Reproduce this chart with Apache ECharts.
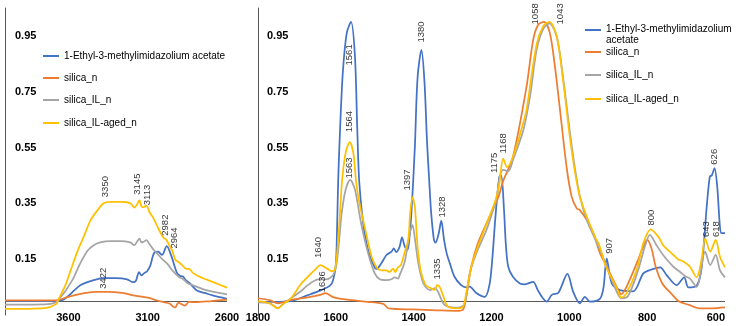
<!DOCTYPE html>
<html><head><meta charset="utf-8">
<script src="https://cdn.jsdelivr.net/npm/echarts@6/dist/echarts.min.js"></script>
<style>html,body{margin:0;padding:0;background:#fff}#c{width:739px;height:326px}</style>
</head><body><div id="c"></div>
<script>
// ---------- data ----------
const seriesNames = ['1-Ethyl-3-methylimidazolium acetate', 'silica_n', 'silica_IL_n', 'silica_IL-aged_n'];

// Left panel (4000-2600 cm-1)
const ilLeftWn = [4000, 3700, 3640, 3600, 3560, 3520, 3480, 3440, 3380, 3300, 3230, 3195, 3175, 3155, 3140, 3122, 3105, 3085, 3060, 3035, 3010, 2980, 2950, 2915, 2895, 2878, 2860, 2832, 2790, 2740, 2690, 2600];
const ilLeftVal = [0.0, 0.0, 0.003, 0.018, 0.04, 0.058, 0.068, 0.075, 0.082, 0.082, 0.078, 0.068, 0.072, 0.104, 0.092, 0.10, 0.106, 0.125, 0.172, 0.177, 0.165, 0.197, 0.16, 0.10, 0.09, 0.088, 0.075, 0.062, 0.038, 0.029, 0.02, 0.008];

const silicaLeftWn = [4000, 3700, 3660, 3600, 3500, 3420, 3350, 3250, 3190, 3100, 3040, 2990, 2960, 2940, 2926, 2915, 2905, 2890, 2865, 2850, 2840, 2800, 2700, 2600];
const silicaLeftVal = [0.002, 0.002, 0.004, 0.015, 0.028, 0.033, 0.033, 0.028, 0.02, 0.012, 0.002, -0.005, -0.01, -0.02, -0.023, -0.012, -0.006, -0.01, -0.016, -0.008, -0.003, -0.004, 0.0, 0.005];

const ilnLeftWn = [4000, 3750, 3680, 3655, 3620, 3586, 3565, 3530, 3480, 3440, 3400, 3335, 3270, 3210, 3185, 3168, 3152, 3140, 3127, 3108, 3090, 3065, 3040, 3008, 2977, 2945, 2900, 2880, 2850, 2813, 2726, 2600];
const ilnLeftVal = [-0.013, -0.012, -0.005, 0.01, 0.035, 0.065, 0.086, 0.13, 0.18, 0.20, 0.21, 0.215, 0.215, 0.21, 0.20, 0.212, 0.224, 0.21, 0.212, 0.218, 0.205, 0.185, 0.17, 0.15, 0.134, 0.11, 0.085, 0.08, 0.065, 0.056, 0.038, 0.024];

const agedLeftWn = [4000, 3750, 3680, 3659, 3617, 3586, 3542, 3504, 3460, 3416, 3378, 3335, 3272, 3209, 3184, 3168, 3152, 3140, 3127, 3108, 3090, 3065, 3033, 3002, 2983, 2964, 2945, 2926, 2901, 2876, 2857, 2839, 2813, 2769, 2688, 2600];
const agedLeftVal = [-0.028, -0.025, -0.012, 0.01, 0.06, 0.11, 0.18, 0.23, 0.29, 0.326, 0.35, 0.355, 0.355, 0.35, 0.335, 0.345, 0.362, 0.34, 0.336, 0.342, 0.32, 0.298, 0.26, 0.228, 0.22, 0.20, 0.18, 0.148, 0.138, 0.125, 0.115, 0.115, 0.10, 0.086, 0.068, 0.048];

// Right panel (1800-600 cm-1)
const ilRightWn = [1800, 1760, 1715, 1672, 1638, 1615, 1607, 1600, 1597, 1594, 1589, 1582, 1572, 1561, 1551, 1545, 1540, 1530, 1520, 1512, 1500, 1495, 1483, 1470, 1457, 1451, 1445, 1436, 1430, 1423, 1416, 1412, 1406, 1397, 1390, 1380, 1372, 1366, 1360, 1355, 1348, 1344, 1336, 1329, 1322, 1315, 1307, 1295, 1278, 1265, 1256, 1240, 1217, 1205, 1198, 1190, 1180, 1175, 1168, 1163, 1157, 1145, 1127, 1114, 1093, 1081, 1068, 1058, 1045, 1028, 1005, 990, 973, 960, 947, 921, 912, 904, 891, 870, 836, 810, 793, 767, 750, 724, 705, 694, 673, 660, 647, 639, 634, 627, 620, 613, 609, 600];
const ilRightVal = [-0.003, -0.003, 0.0, 0.021, 0.039, 0.055, 0.075, 0.13, 0.25, 0.43, 0.62, 0.82, 0.96, 1.0, 0.88, 0.62, 0.43, 0.28, 0.2, 0.16, 0.12, 0.115, 0.135, 0.165, 0.177, 0.189, 0.175, 0.195, 0.228, 0.196, 0.183, 0.21, 0.31, 0.55, 0.80, 0.90, 0.78, 0.58, 0.43, 0.315, 0.22, 0.209, 0.24, 0.288, 0.22, 0.17, 0.135, 0.087, 0.057, 0.049, 0.052, 0.03, 0.015, 0.06, 0.15, 0.30, 0.445, 0.45, 0.33, 0.2, 0.123, 0.087, 0.063, 0.06, 0.069, 0.039, 0.01, -0.002, 0.022, 0.03, 0.097, 0.033, -0.008, 0.015, -0.002, 0.009, 0.05, 0.153, 0.063, 0.039, 0.035, 0.099, 0.111, 0.121, 0.093, 0.057, 0.085, 0.049, 0.055, 0.12, 0.338, 0.446, 0.45, 0.476, 0.41, 0.266, 0.243, 0.243];

const silicaRightWn = [1800, 1770, 1749, 1715, 1672, 1640, 1627, 1605, 1570, 1525, 1478, 1465, 1400, 1340, 1290, 1273, 1265, 1252, 1235, 1209, 1183, 1170, 1145, 1110, 1093, 1080, 1065, 1050, 1037, 1024, 1007, 994, 981, 973, 955, 938, 921, 904, 887, 870, 866, 853, 827, 810, 800, 789, 778, 761, 735, 718, 692, 666, 633, 600];
const silicaRightVal = [0.01, 0.003, -0.008, 0.004, 0.013, 0.022, 0.028, 0.013, 0.005, -0.002, -0.01, -0.026, -0.03, -0.033, -0.035, -0.03, 0.015, 0.123, 0.207, 0.29, 0.37, 0.43, 0.516, 0.768, 0.935, 0.99, 1.0, 0.96, 0.84, 0.685, 0.48, 0.374, 0.332, 0.326, 0.29, 0.243, 0.171, 0.125, 0.075, 0.028, 0.025, 0.051, 0.135, 0.195, 0.219, 0.189, 0.123, 0.063, 0.022, -0.002, -0.014, -0.026, -0.026, -0.023];

const ilnRightWn = [1800, 1770, 1749, 1735, 1715, 1690, 1672, 1645, 1625, 1607, 1598, 1590, 1585, 1575, 1563, 1551, 1535, 1517, 1500, 1487, 1470, 1457, 1449, 1440, 1436, 1423, 1410, 1403, 1397, 1388, 1375, 1358, 1345, 1338, 1320, 1286, 1269, 1256, 1239, 1213, 1204, 1187, 1178, 1170, 1157, 1145, 1118, 1101, 1084, 1067, 1051, 1032, 1016, 1007, 998, 985, 972, 955, 938, 929, 917, 904, 887, 866, 849, 823, 806, 793, 776, 759, 733, 716, 703, 690, 673, 651, 638, 624, 613, 600];
const ilnRightVal = [-0.005, -0.008, -0.025, -0.01, 0.01, 0.035, 0.057, 0.078, 0.078, 0.093, 0.135, 0.24, 0.314, 0.398, 0.434, 0.40, 0.278, 0.171, 0.099, 0.078, 0.075, 0.078, 0.085, 0.08, 0.093, 0.141, 0.243, 0.272, 0.225, 0.135, 0.063, 0.039, 0.046, 0.035, -0.014, -0.024, -0.01, 0.099, 0.171, 0.254, 0.29, 0.37, 0.45, 0.47, 0.465, 0.505, 0.613, 0.733, 0.90, 0.975, 0.995, 0.945, 0.80, 0.70, 0.60, 0.47, 0.37, 0.29, 0.235, 0.207, 0.17, 0.123, 0.063, 0.01, 0.018, 0.111, 0.195, 0.237, 0.2, 0.165, 0.123, 0.105, 0.09, 0.08, 0.051, 0.177, 0.129, 0.165, 0.111, 0.085];

const agedRightWn = [1800, 1770, 1749, 1735, 1715, 1690, 1672, 1650, 1640, 1623, 1610, 1602, 1595, 1590, 1584, 1575, 1564, 1555, 1548, 1541, 1524, 1508, 1495, 1483, 1470, 1462, 1453, 1447, 1441, 1433, 1424, 1414, 1409, 1403, 1397, 1390, 1382, 1369, 1355, 1346, 1340, 1333, 1325, 1312, 1286, 1273, 1265, 1252, 1235, 1209, 1190, 1180, 1170, 1160, 1145, 1118, 1110, 1084, 1067, 1051, 1032, 1016, 1007, 998, 985, 973, 955, 934, 923, 908, 896, 878, 866, 853, 827, 810, 791, 771, 759, 737, 720, 707, 690, 673, 660, 651, 638, 624, 613, 600];
const agedRightVal = [0.0, -0.008, -0.026, -0.01, 0.01, 0.06, 0.087, 0.117, 0.129, 0.117, 0.107, 0.115, 0.2, 0.30, 0.43, 0.53, 0.569, 0.53, 0.43, 0.362, 0.254, 0.159, 0.12, 0.11, 0.11, 0.104, 0.116, 0.104, 0.12, 0.129, 0.17, 0.219, 0.314, 0.372, 0.338, 0.195, 0.11, 0.057, 0.046, 0.04, 0.057, 0.05, 0.022, -0.02, -0.026, -0.02, 0.028, 0.123, 0.195, 0.29, 0.36, 0.42, 0.51, 0.48, 0.516, 0.64, 0.685, 0.92, 0.985, 1.0, 0.947, 0.79, 0.685, 0.58, 0.458, 0.374, 0.302, 0.23, 0.2, 0.13, 0.095, 0.046, 0.012, 0.028, 0.111, 0.207, 0.257, 0.23, 0.2, 0.171, 0.149, 0.142, 0.123, 0.085, 0.15, 0.225, 0.177, 0.219, 0.159, 0.121];

// Peak annotations (label text, wavenumber, absorbance at text centre)
const leftPeakText = ['3350', '3145', '3113', '2982', '2964', '3422'];
const leftPeakWn = [3366, 3165, 3100, 2986, 2930, 3378];
const leftPeakVal = [0.41, 0.419, 0.38, 0.272, 0.226, 0.082];
const rightPeakText = ['1561', '1380', '1564', '1563', '1397', '1328', '1335', '1640', '1636', '1175', '1168', '1058', '1043', '907', '800', '643', '618', '626'];
const rightPeakWn = [1564, 1380, 1564, 1564, 1417, 1326, 1340, 1645, 1634, 1193, 1170, 1086, 1024, 897, 790, 649, 621, 627];
const rightPeakVal = [0.882, 0.964, 0.643, 0.477, 0.434, 0.337, 0.115, 0.192, 0.069, 0.495, 0.565, 1.029, 1.029, 0.198, 0.299, 0.258, 0.258, 0.517];

// Axis ticks
const leftXTicks = {min: 2600, max: 4000, interval: 500};
const rightXTicks = {min: 600, max: 1800, interval: 200};
const yTicks = {min: -0.05, max: 1.05, interval: 0.2};

// ---------- chart ----------
const FONT = '"Liberation Sans", Arial, sans-serif';
const colors = ['#4472C4', '#ED7D31', '#A5A5A5', '#FFC000'];
const zip = (a, b) => a.map((x, i) => [x, b[i]]);
const zip3 = (t, a, b) => t.map((s, i) => [a[i], b[i], s]);

const leftData = [zip(ilLeftWn, ilLeftVal), zip(silicaLeftWn, silicaLeftVal), zip(ilnLeftWn, ilnLeftVal), zip(agedLeftWn, agedLeftVal)];
const rightData = [zip(ilRightWn, ilRightVal), zip(silicaRightWn, silicaRightVal), zip(ilnRightWn, ilnRightVal), zip(agedRightWn, agedRightVal)];

const series = [];
[leftData, rightData].forEach((panel, pi) => {
  panel.forEach((d, si) => {
    const s = {
      type: 'line', name: seriesNames[si], xAxisIndex: pi, yAxisIndex: pi,
      data: d, symbol: 'none', showSymbol: false, smooth: 0.3,
      lineStyle: {width: 1.75, color: colors[si]}, itemStyle: {color: colors[si]},
      emphasis: {disabled: true}, z: 2 + si
    };
    if (si === 0) {
      s.markLine = {silent: true, symbol: ['none', 'none'], label: {show: false},
        lineStyle: {color: '#595959', type: 'solid', width: 1}, data: [{yAxis: 0}], z: 1};
    }
    series.push(s);
  });
});

const annot = (pi, data) => ({
  type: 'scatter', xAxisIndex: pi, yAxisIndex: pi, data, symbolSize: 1, silent: true,
  itemStyle: {color: 'rgba(0,0,0,0)'}, z: 10,
  label: {show: true, position: 'inside', rotate: 90, fontSize: 9.5, color: '#000', fontFamily: FONT,
    formatter: p => p.data[2]}
});
series.push(annot(0, zip3(leftPeakText, leftPeakWn, leftPeakVal)));
series.push(annot(1, zip3(rightPeakText, rightPeakWn, rightPeakVal)));

const yAxisCfg = (gi, margin) => ({
  gridIndex: gi, type: 'value', min: yTicks.min, max: yTicks.max, interval: yTicks.interval,
  splitLine: {show: false}, axisTick: {show: false},
  axisLine: {show: true, onZero: false, lineStyle: {color: '#595959', width: 1}},
  axisLabel: {inside: true, margin, fontSize: 11, fontWeight: 'bold', color: '#000', fontFamily: FONT,
    formatter: v => (v < 0 || v > 1) ? '' : v.toFixed(2)}
});
const xAxisCfg = (gi, t, extra) => ({
  gridIndex: gi, type: 'value', inverse: true, min: t.min, max: t.max, interval: t.interval,
  splitLine: {show: false}, axisTick: {show: false}, axisLine: {show: false, onZero: false},
  axisLabel: Object.assign({margin: -3, fontSize: 11, fontWeight: 'bold', color: '#000', fontFamily: FONT,
    formatter: v => String(v)}, extra)
});

const legendItem = (name, left, top, fmt, icon, ih) => ({
  data: [name], left, top, orient: 'horizontal', padding: 0, itemWidth: 16, itemHeight: ih || 2,
  icon: icon || 'rect',
  selectedMode: false,
  formatter: fmt || (n => n),
  textStyle: {fontSize: 10, color: '#000', fontFamily: FONT, lineHeight: 11}
});
// icon whose coloured bar sits at the top of its box (aligned with the first text line)
const topBarIcon = 'path://M0,0H16V2H0Z M0,10.9H0.01V11H0Z';

const option = {
  animation: false,
  backgroundColor: '#fff',
  grid: [
    {left: 5, top: 8, width: 222, height: 307},
    {left: 258, top: 8, width: 467, height: 307}
  ],
  xAxis: [
    xAxisCfg(0, leftXTicks, {formatter: v => v === 4000 ? '' : String(v)}),
    xAxisCfg(1, rightXTicks, {alignMinLabel: 'right'})
  ],
  yAxis: [yAxisCfg(0, 10), yAxisCfg(1, 9)],
  legend: [
    legendItem(seriesNames[0], 43, 50.5),
    legendItem(seriesNames[1], 43, 72.5),
    legendItem(seriesNames[2], 43, 94.5),
    legendItem(seriesNames[3], 43, 117.5),
    legendItem(seriesNames[0], 585, 23.5, () => '1-Ethyl-3-methylimidazolium\nacetate', topBarIcon, 12),
    legendItem(seriesNames[1], 585, 46.5),
    legendItem(seriesNames[2], 585, 69.5),
    legendItem(seriesNames[3], 585, 93.5)
  ],
  series
};
const chart = echarts.init(document.getElementById('c'), null, {renderer: 'canvas'});
chart.setOption(option);
</script>
</body></html>
